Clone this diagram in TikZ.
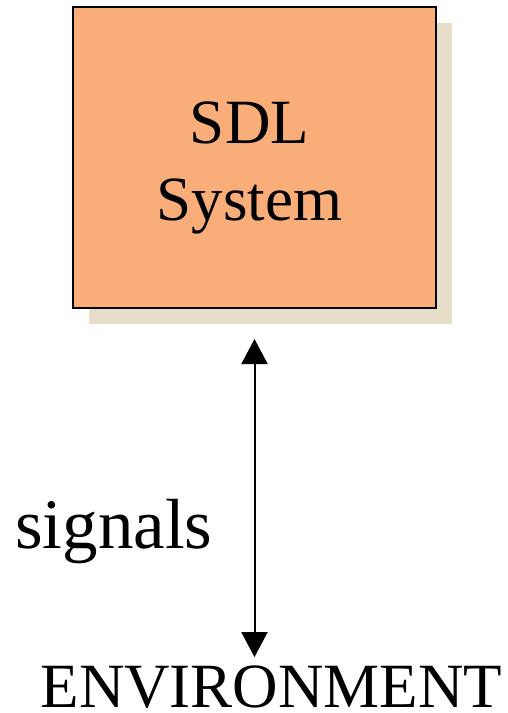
\documentclass[tikz,border=0pt]{standalone}
\usepackage{fontspec}
\setmainfont{Liberation Serif}
\usepackage{tikz}
\usetikzlibrary{arrows.meta}
\usetikzlibrary{shadows}

\definecolor{sysorange}{RGB}{249,173,120}
\definecolor{shadowbeige}{RGB}{230,222,201}

\tikzset{
  sysbox/.style={draw=black, line width=2pt, fill=sysorange,
    minimum width=363pt, minimum height=301pt, inner sep=0pt,
    drop shadow={shadow xshift=16pt, shadow yshift=-16pt, fill=shadowbeige, opacity=1}},
  bigtext/.style={font=\fontsize{63}{77}\selectfont, inner sep=0pt},
  sigarrow/.style={line width=2pt, {Triangle[length=25pt,width=26pt]}-{Triangle[length=25pt,width=26pt]}}
}

\begin{document}
\begin{tikzpicture}[x=1pt,y=-1pt]
  \useasboundingbox (0,0) rectangle (508,713);

  % the system block
  \node[sysbox] (sys) at (254.5,157.5) {};
  \node[bigtext, align=center, xshift=-5pt, yshift=-10pt] (syslabel) at (sys.center) {SDL\\System};

  % environment and the signal channel
  \node[bigtext, anchor=base] (env) at (271.5,707) {ENVIRONMENT};
  \draw[sigarrow, shorten <=30pt, shorten >=8pt] (sys.south) -- (sys.south |- env.north);
  \node[bigtext, font=\fontsize{71}{85}\selectfont, anchor=base west] (signals) at (15,548) {signals};
\end{tikzpicture}
\end{document}
